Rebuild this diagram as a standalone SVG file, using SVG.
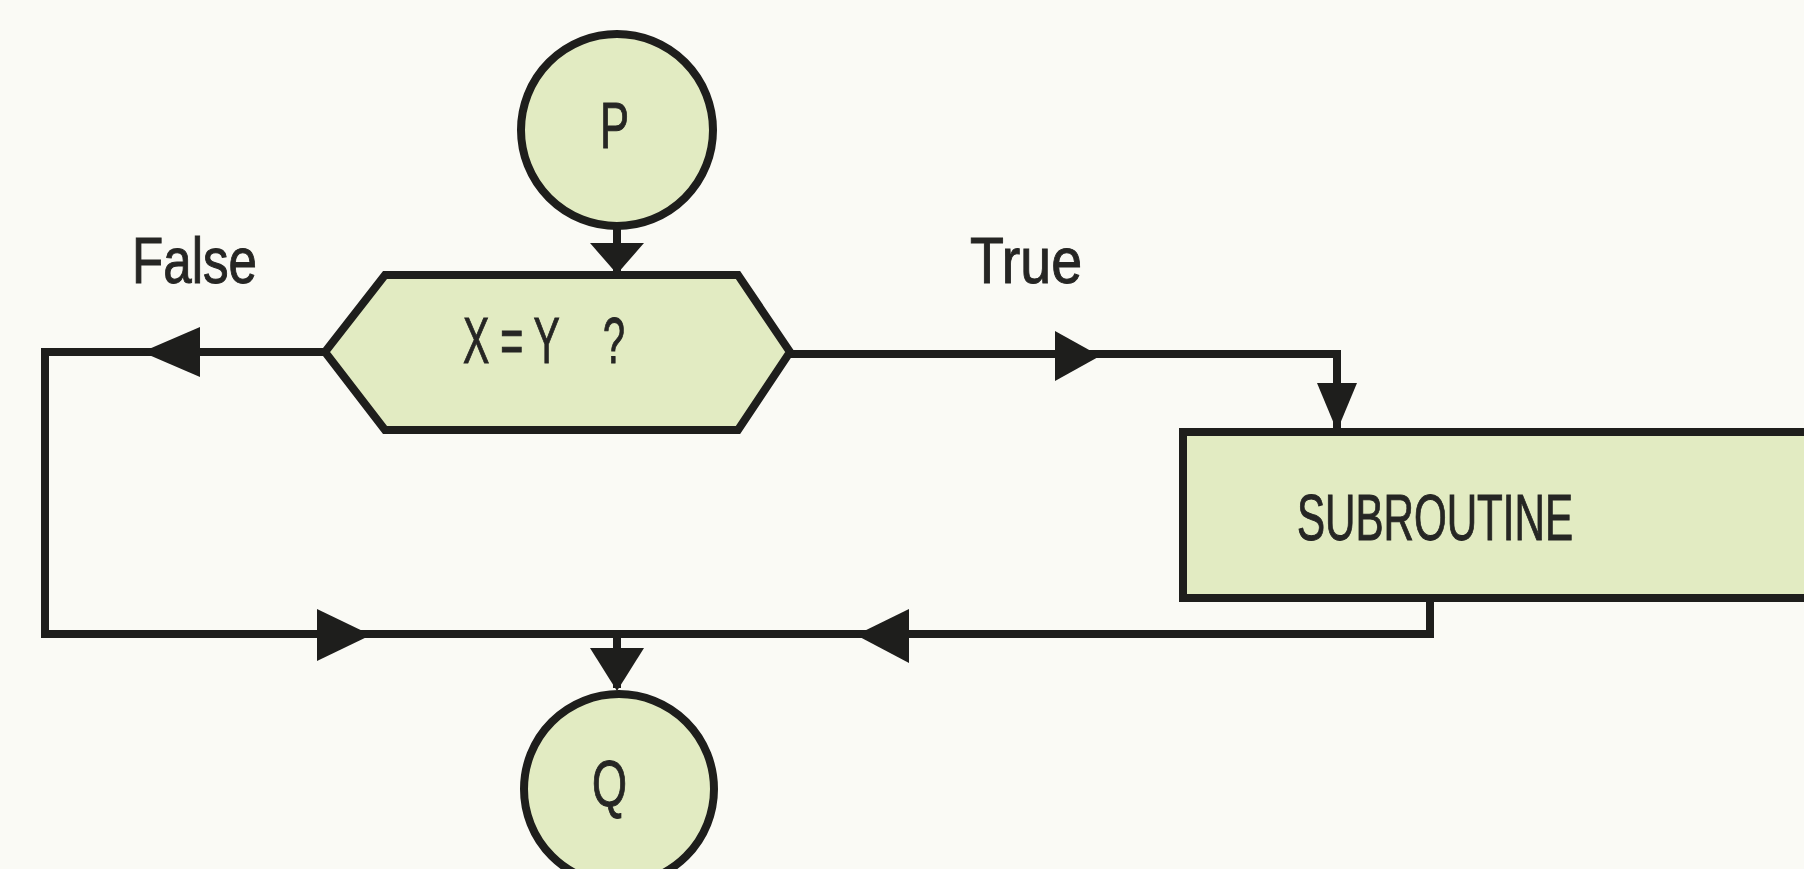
<svg xmlns="http://www.w3.org/2000/svg" width="1804" height="869" viewBox="0 0 1804 869">
<style>
.node{fill:#e2ebc2;stroke:#1e1e1c;stroke-width:8}
.line{fill:none;stroke:#1e1e1c;stroke-width:8;stroke-linejoin:miter}
.head{fill:#1e1e1c}
.lbl{font-family:"Liberation Sans Narrow","Liberation Sans",Arial,sans-serif;font-size:64px;fill:#262624;stroke:#262624;stroke-width:1}
</style>
<rect x="0" y="0" width="1804" height="869" fill="#fafaf5"/>
<g id="connectors">
<path class="line" d="M617 226 V272"/>
<path class="line" d="M325 352 H45 V634 H617"/>
<path class="line" d="M790 354 H1337 V428"/>
<path class="line" d="M1430 598 V634 H617"/>
<path class="line" d="M617 634 V688"/>
<polygon class="head" points="590,243 644,243 617,274"/>
<polygon class="head" points="200,327 200,377 142,352"/>
<polygon class="head" points="1055,331 1055,381 1100,356"/>
<polygon class="head" points="1317,383 1357,383 1337,431"/>
<polygon class="head" points="317,609 317,661 371,635"/>
<polygon class="head" points="909,609 909,663 856,635"/>
<polygon class="head" points="590,648 644,648 617,691"/>
</g>
<g id="label-false"><text class="lbl" x="132" y="283" textLength="125" lengthAdjust="spacingAndGlyphs">False</text></g>
<g id="label-true"><text class="lbl" x="970" y="283" textLength="112" lengthAdjust="spacingAndGlyphs">True</text></g>
<g id="node-p">
<circle class="node" cx="617" cy="130" r="96"/>
<text class="lbl" x="600" y="148" textLength="29" lengthAdjust="spacingAndGlyphs">P</text>
</g>
<g id="node-decision">
<polygon class="node" points="325,352 385,275 738,275 790,352 738,430 385,430"/>
<text class="lbl" x="463" y="363" textLength="162" lengthAdjust="spacingAndGlyphs" xml:space="preserve" style="white-space:pre">X = Y    ?</text>
</g>
<g id="node-subroutine">
<rect class="node" x="1183" y="432" width="660" height="166"/>
<text class="lbl" x="1297" y="540" textLength="276" lengthAdjust="spacingAndGlyphs">SUBROUTINE</text>
</g>
<g id="node-q">
<circle class="node" cx="619" cy="789" r="95"/>
<text class="lbl" x="592" y="806" textLength="35" lengthAdjust="spacingAndGlyphs">Q</text>
</g>
</svg>
